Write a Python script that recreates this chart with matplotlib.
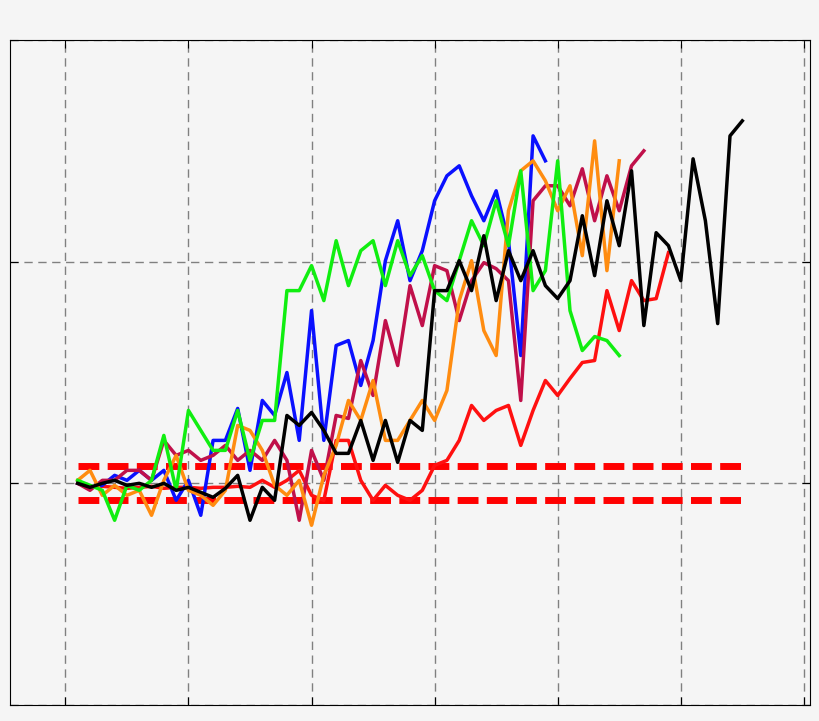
import numpy as np
import matplotlib
matplotlib.use("Agg")
import matplotlib.pyplot as plt

# pixel readings -> data units: value = (483 - px) / 222
def to_data(px):
    return (483 - np.array(px, dtype=float)) / 222

black_px = [483, 487, 483, 480, 485, 483, 487, 483, 490, 487, 492, 497, 488, 475, 520, 487, 500, 415,
            425, 412, 430, 453, 453, 420, 460, 420, 462, 420, 430, 290, 290, 260, 290, 235, 300, 250,
            280, 250, 285, 298, 280, 215, 275, 200, 245, 170, 325, 232, 245, 280, 158, 220, 323, 135, 120]
red_px = [483, 487, 486, 487, 488, 487, 486, 488, 487, 487, 488, 487, 487, 486, 487, 480, 487, 480,
          470, 495, 500, 440, 440, 480, 500, 485, 495, 500, 490, 465, 460, 440, 405, 420, 410, 405,
          445, 410, 380, 395, 378, 362, 360, 290, 330, 280, 300, 298, 252]
blue_px = [483, 487, 485, 475, 480, 470, 480, 470, 500, 480, 515, 440, 440, 408, 470, 400, 415, 372,
           440, 310, 440, 345, 340, 385, 340, 260, 220, 280, 250, 200, 175, 165, 195, 220, 190, 240,
           355, 135, 160]
green_px = [480, 485, 490, 520, 485, 490, 480, 435, 490, 410, 430, 450, 450, 410, 460, 420, 420, 290,
            290, 265, 300, 240, 285, 250, 240, 285, 240, 275, 255, 290, 300, 260, 220, 245, 200, 245,
            170, 290, 270, 160, 310, 350, 336, 340, 355]
crimson_px = [483, 490, 480, 480, 470, 470, 480, 440, 455, 450, 460, 455, 445, 460, 450, 460, 440, 460,
              520, 450, 480, 415, 418, 360, 395, 320, 365, 285, 325, 265, 270, 320, 280, 262, 268,
              280, 400, 200, 185, 185, 205, 168, 220, 175, 210, 165, 150]
orange_px = [480, 470, 495, 485, 495, 490, 515, 480, 455, 490, 495, 505, 490, 425, 430, 450, 485, 495,
             480, 525, 475, 445, 400, 420, 380, 440, 440, 420, 400, 420, 390, 300, 260, 330,
             355, 210, 170, 160, 180, 210, 185, 255, 140, 270, 160]

series = [
    (red_px, "#ff1010"),
    (blue_px, "#0a10ff"),
    (crimson_px, "#c0104a"),
    (orange_px, "#ff8c10"),
    (green_px, "#10ee10"),
    (black_px, "black"),
]
band = [to_data(466), to_data(500)]

fig = plt.figure(figsize=(8.2, 7.21), dpi=100)
fig.patch.set_facecolor("#f5f5f5")
ax = fig.add_axes([10 / 820, 16 / 721, 800 / 820, 665 / 721])
ax.set_facecolor("#f5f5f5")

for lvl in band:
    ax.plot([0.1, 5.5], [lvl, lvl], color="red", lw=5, ls=(0, (3, 1.2)))

for px, col in series:
    y = to_data(px)
    x = 0.1 * np.arange(1, len(y) + 1)
    ax.plot(x, y, color=col, lw=2.5)

ax.set_xlim(-0.45, 6.05)
ax.set_ylim(-1, 2)
ax.set_xticks(range(7))
ax.set_yticks([-1, 0, 1, 2])
ax.grid(True, color="gray", ls=(0, (6, 4)), lw=1)
ax.tick_params(direction="in", top=True, right=True, length=6,
               labelbottom=False, labelleft=False)
fig.savefig("out.png", dpi=100, facecolor=fig.get_facecolor())
